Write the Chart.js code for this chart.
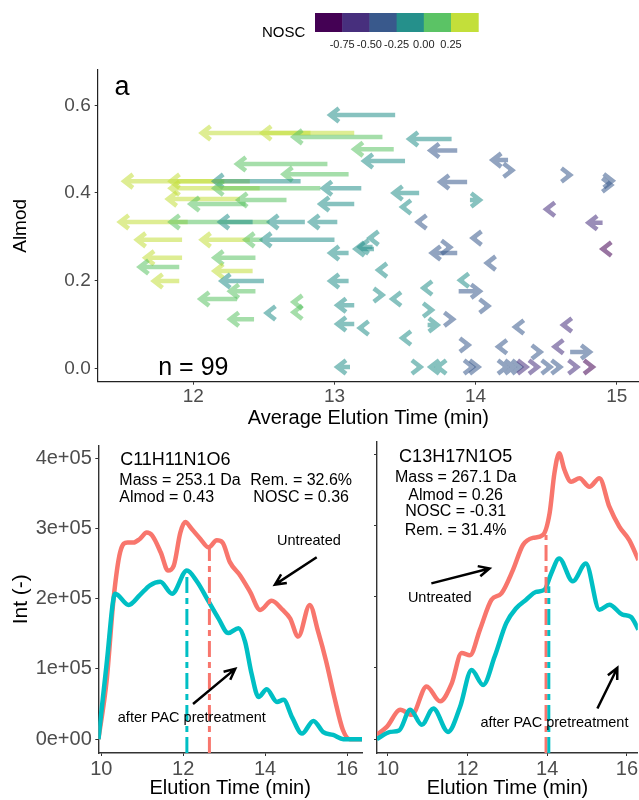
<!DOCTYPE html>
<html>
<head>
<meta charset="utf-8">
<script src="https://cdn.jsdelivr.net/npm/chart.js@4.4.0/dist/chart.umd.min.js"></script>
<style>
  body { margin: 0; background: #fff; }
  #wrap { position: relative; width: 639px; height: 800px; overflow: hidden; }
  canvas { position: absolute; }
  #top { left: 0; top: 0; }
  #left { left: 0; top: 430px; }
  #right { left: 366px; top: 430px; }
</style>
</head>
<body>
<div id="wrap">
  <canvas id="top" width="639" height="430"></canvas>
  <canvas id="left" width="366" height="370"></canvas>
  <canvas id="right" width="273" height="370"></canvas>
</div>
<script>
// ---- panel a: elution shift arrows (tail = start, head = end) ----
const startTime = [13.43, 12.83, 13.14, 13.34, 13.42, 13.50, 12.95, 13.10, 12.22, 12.40,
  12.76, 12.47, 12.90, 13.19, 12.33, 12.37, 12.66, 13.14, 11.96, 12.54,
  12.42, 12.79, 13.02, 11.92, 12.40, 12.49, 13.00, 13.10, 13.28, 11.92,
  12.44, 11.90, 12.42, 11.90, 12.50, 13.10, 12.44, 12.31, 13.14, 12.74,
  12.74, 12.55, 12.43, 13.14, 13.21, 13.11, 13.83, 13.87, 14.23, 14.23,
  14.64, 14.94, 14.93, 13.94, 13.60, 13.96, 13.51, 14.53, 13.62, 14.90,
  14.01, 13.28, 13.27, 14.93, 13.87, 13.79, 14.11, 13.34, 13.92, 13.66,
  13.88, 13.31, 13.44, 14.06, 13.66, 13.81, 13.66, 14.31, 14.65, 13.51,
  13.92, 14.59, 14.19, 14.43, 14.67, 13.58, 13.71, 13.76, 13.95, 13.99,
  14.19, 14.24, 14.29, 14.33, 14.41, 14.50, 14.57, 14.69, 14.80];
const endTime = [12.97, 12.06, 12.49, 12.71, 13.14, 13.21, 12.31, 12.64, 11.51, 11.84,
  12.15, 11.84, 12.15, 12.92, 11.82, 11.98, 12.32, 12.90, 11.48, 11.84,
  12.19, 12.54, 12.83, 11.60, 12.06, 12.37, 12.49, 12.97, 13.15, 11.66,
  12.15, 11.62, 12.15, 11.72, 12.20, 12.97, 12.26, 12.05, 13.02, 12.71,
  12.71, 12.52, 12.26, 13.02, 13.18, 13.02, 13.53, 13.68, 14.12, 14.26,
  14.67, 14.97, 14.96, 13.75, 13.42, 14.03, 13.48, 14.50, 13.59, 14.80,
  13.98, 13.25, 13.18, 14.90, 13.69, 13.82, 14.08, 13.31, 13.89, 13.63,
  14.03, 13.34, 13.41, 14.09, 13.69, 13.84, 13.73, 14.28, 14.62, 13.48,
  13.95, 14.56, 14.16, 14.46, 14.81, 13.61, 13.68, 13.73, 13.98, 14.02,
  14.22, 14.27, 14.32, 14.36, 14.44, 14.53, 14.60, 14.72, 14.83];
const almod = [0.578, 0.537, 0.537, 0.528, 0.500, 0.473, 0.466, 0.443, 0.427, 0.427,
  0.427, 0.411, 0.411, 0.411, 0.386, 0.375, 0.384, 0.375, 0.334, 0.334,
  0.334, 0.334, 0.334, 0.293, 0.293, 0.293, 0.293, 0.263, 0.272, 0.252,
  0.252, 0.231, 0.222, 0.199, 0.199, 0.199, 0.176, 0.158, 0.144, 0.151,
  0.128, 0.126, 0.112, 0.101, 0.092, 0.003, 0.523, 0.497, 0.475, 0.452,
  0.441, 0.428, 0.418, 0.425, 0.400, 0.384, 0.368, 0.363, 0.334, 0.332,
  0.297, 0.297, 0.277, 0.272, 0.263, 0.276, 0.240, 0.224, 0.201, 0.183,
  0.176, 0.167, 0.158, 0.142, 0.133, 0.112, 0.099, 0.094, 0.099, 0.069,
  0.053, 0.049, 0.049, 0.037, 0.037, 0.003, 0.003, 0.003, 0.003, 0.003,
  0.003, 0.003, 0.003, 0.003, 0.003, 0.003, 0.003, 0.003, 0.003];
const nosc = [-0.10, 0.35, 0.30, 0.10, 0.10, -0.10, 0.10, 0.10, 0.35, 0.30,
  -0.10, 0.30, 0.10, -0.10, 0.30, 0.10, 0.10, -0.10, 0.35, 0.10,
  -0.10, -0.10, -0.10, 0.35, 0.30, 0.10, -0.10, -0.10, -0.10, 0.30,
  0.10, 0.10, 0.30, 0.30, -0.10, -0.10, 0.10, 0.10, -0.10, 0.10,
  0.10, -0.10, 0.10, -0.10, -0.10, -0.10, -0.10, -0.35, -0.35, -0.35,
  -0.35, -0.35, -0.35, -0.35, -0.10, -0.10, -0.10, -0.60, -0.35, -0.60,
  -0.35, -0.10, -0.10, -0.85, -0.35, -0.35, -0.35, -0.10, -0.10, -0.10,
  -0.35, -0.10, -0.10, -0.35, -0.10, -0.35, -0.10, -0.35, -0.60, -0.10,
  -0.35, -0.60, -0.35, -0.35, -0.35, -0.10, -0.10, -0.10, -0.35, -0.35,
  -0.35, -0.35, -0.35, -0.60, -0.60, -0.35, -0.35, -0.60, -0.85];

const noscBreaks = [-1.0, -0.75, -0.5, -0.25, 0.0, 0.25, 0.5];
const noscColors = ['#440154', '#472F7D', '#39598C', '#25908B', '#5BC365', '#C3DF3A'];
const topXTicks = [12, 13, 14, 15];
const topYTicks = [0.0, 0.2, 0.4, 0.6];

// ---- panels b/c: chromatograms ----
const redTimeL = [9.93, 10.13, 10.30, 10.46, 10.64, 10.79, 10.94, 11.11, 11.24, 11.45,
  11.63, 11.77, 11.93, 12.05, 12.21, 12.42, 12.62, 12.82, 12.96, 13.14,
  13.39, 13.63, 13.88, 14.16, 14.43, 14.61, 14.81, 15.09, 15.29, 15.49,
  15.69, 15.90, 16.07, 16.37];
const redIntL = [0, 83000, 200000, 266000, 280000, 280000, 285000, 294000, 290000, 266000,
  240000, 247000, 294000, 309000, 299000, 285000, 273000, 283000, 280000, 252000,
  233000, 210000, 184000, 197000, 184000, 172000, 146000, 191000, 154000, 111000,
  60000, 13000, 0, 0];
const tealTimeL = [9.93, 10.13, 10.34, 10.67, 10.94, 11.19, 11.44, 11.73, 12.09, 12.34,
  12.62, 12.86, 13.10, 13.35, 13.51, 13.67, 13.84, 14.04, 14.29, 14.45,
  14.66, 14.90, 15.18, 15.42, 15.66, 15.91, 16.37];
const tealIntL = [0, 107000, 207000, 191000, 205000, 219000, 224000, 207000, 240000, 224000,
  196000, 172000, 151000, 158000, 139000, 93000, 60000, 71000, 53000, 56000,
  31000, 8000, 26000, 10000, 6000, 0, 0];
const medianL = [12.64, 12.09];          // untreated, after PAC
const medianTopL = [273000, 240000];

const redTimeR = [9.72, 9.97, 10.31, 10.60, 10.97, 11.31, 11.60, 11.85, 12.06, 12.31,
  12.60, 12.85, 13.14, 13.39, 13.64, 13.89, 14.06, 14.18, 14.30, 14.43,
  14.60, 14.81, 15.06, 15.31, 15.56, 15.81, 16.06, 16.29];
const redIntR = [6000, 17000, 41000, 34000, 74000, 53000, 78000, 121000, 118000, 154000,
  196000, 205000, 238000, 273000, 283000, 287000, 318000, 374000, 402000, 379000,
  362000, 367000, 355000, 367000, 327000, 299000, 280000, 252000];
const tealTimeR = [9.72, 10.06, 10.28, 10.56, 10.85, 11.14, 11.51, 11.81, 12.10, 12.39,
  12.68, 12.97, 13.22, 13.47, 13.72, 13.93, 14.10, 14.30, 14.64, 14.97,
  15.31, 15.56, 15.89, 16.10, 16.29];
const tealIntR = [0, 10000, 12000, 41000, 20000, 43000, 10000, 45000, 97000, 76000,
  116000, 163000, 184000, 196000, 207000, 210000, 233000, 254000, 222000, 247000,
  182000, 189000, 175000, 172000, 154000];
const medianR = [13.97, 14.04];
const medianTopR = [287000, 215000];

const timeTicks = [10, 12, 14, 16];
const intTicks = [0, 100000, 200000, 300000, 400000];

const RED = '#F8766D';
const TEAL = '#00BFC4';
const FONT = '"Liberation Sans", Arial, sans-serif';
const INT_MIN = -19700, INT_MAX = 418000;

Chart.defaults.font.family = FONT;
Chart.defaults.color = '#4d4d4d';

const hexToRgba = (hex, a) => {
  const n = parseInt(hex.slice(1), 16);
  return `rgba(${(n >> 16) & 255}, ${(n >> 8) & 255}, ${n & 255}, ${a})`;
};

const noscColor = (v) => {
  let i = Math.floor((v - noscBreaks[0]) / 0.25);
  i = Math.max(0, Math.min(noscColors.length - 1, i));
  return noscColors[i];
};

const sciLabel = (v) => {
  const [m, e] = Number(v).toExponential(0).split('e');
  return m + 'e' + e[0] + e.slice(1).padStart(2, '0');
};

const drawArrow = (ctx, x0, y0, x1, y1, len, ang) => {
  const a = Math.atan2(y1 - y0, x1 - x0);
  ctx.beginPath();
  ctx.moveTo(x0, y0);
  ctx.lineTo(x1, y1);
  ctx.moveTo(x1 - len * Math.cos(a - ang), y1 - len * Math.sin(a - ang));
  ctx.lineTo(x1, y1);
  ctx.lineTo(x1 - len * Math.cos(a + ang), y1 - len * Math.sin(a + ang));
  ctx.stroke();
};

const arrowPlugin = {
  id: 'shiftArrows',
  afterDatasetsDraw(chart) {
    const {ctx, chartArea, scales: {x, y}} = chart;
    ctx.save();
    ctx.beginPath();
    ctx.rect(chartArea.left, chartArea.top, chartArea.width, chartArea.height);
    ctx.clip();
    ctx.lineWidth = 4.5;
    ctx.lineCap = 'butt';
    ctx.lineJoin = 'miter';
    startTime.forEach((s, i) => {
      ctx.strokeStyle = hexToRgba(noscColor(nosc[i]), 0.55);
      const py = y.getPixelForValue(almod[i]);
      drawArrow(ctx, x.getPixelForValue(s), py, x.getPixelForValue(endTime[i]), py, 11, 0.66);
    });
    ctx.restore();
  },
  afterDraw(chart) {
    // binned colour legend
    const ctx = chart.ctx;
    ctx.save();
    ctx.font = `15px ${FONT}`;
    ctx.fillStyle = '#000';
    ctx.textAlign = 'left';
    ctx.textBaseline = 'middle';
    ctx.fillText('NOSC', 262, 33);
    const w = 27.2;
    noscColors.forEach((c, i) => {
      ctx.fillStyle = c;
      ctx.fillRect(315 + i * w, 13, w + 0.5, 19);
    });
    ctx.font = `11px ${FONT}`;
    ctx.fillStyle = '#222';
    ctx.textAlign = 'center';
    noscBreaks.slice(1, 6).forEach((b, i) => {
      ctx.fillText(b.toFixed(2), 315 + (i + 1) * w, 45);
    });
    ctx.restore();
  }
};

const notesPlugin = {
  id: 'notes',
  afterDatasetsDraw(chart, args, opts) {
    const {ctx, scales: {x, y}} = chart;
    ctx.save();
    ctx.fillStyle = '#000';
    ctx.textBaseline = 'middle';
    (opts.texts || []).forEach((t) => {
      ctx.font = `${t.size}px ${FONT}`;
      ctx.textAlign = t.align || 'left';
      ctx.fillText(t.text, x.getPixelForValue(t.x), y.getPixelForValue(t.y));
    });
    ctx.strokeStyle = '#000';
    ctx.lineWidth = 2.5;
    ctx.lineCap = 'butt';
    (opts.arrows || []).forEach((a) => {
      drawArrow(ctx, x.getPixelForValue(a.x0), y.getPixelForValue(a.y0),
        x.getPixelForValue(a.x1), y.getPixelForValue(a.y1), 12, Math.PI / 7);
    });
    ctx.restore();
  }
};

const setTicks = (list) => (scale) => { scale.ticks = list.map((v) => ({value: v})); };

new Chart(document.getElementById('top'), {
  type: 'scatter',
  data: {
    datasets: [{
      data: endTime.map((t, i) => ({x: t, y: almod[i]})),
      pointRadius: 0
    }]
  },
  options: {
    responsive: false,
    animation: false,
    layout: {padding: {top: 70, right: 0, left: 0, bottom: 0}},
    plugins: {
      legend: {display: false},
      tooltip: {enabled: false},
      notes: {
        texts: [
          {text: 'a', x: 11.495, y: 0.64, size: 27, align: 'center'},
          {text: 'n = 99', x: 12.0, y: 0.0, size: 25, align: 'center'}
        ]
      }
    },
    scales: {
      x: {
        type: 'linear', min: 11.322, max: 15.158,
        afterBuildTicks: setTicks(topXTicks),
        afterFit: (s) => { s.height = 48.3; },
        grid: {drawOnChartArea: false, tickLength: 3, color: '#333'},
        border: {color: '#222', width: 1.2},
        ticks: {font: {size: 19}, color: '#4d4d4d', padding: 1, maxRotation: 0, callback: (v) => String(v)},
        title: {display: true, text: 'Average Elution Time (min)', font: {size: 20}, color: '#000', padding: {top: 0, bottom: 0}}
      },
      y: {
        min: -0.0306, max: 0.6806,
        afterBuildTicks: setTicks(topYTicks),
        afterFit: (s) => { s.width = 97.7; },
        grid: {drawOnChartArea: false, tickLength: 3, color: '#333'},
        border: {color: '#222', width: 1.2},
        ticks: {font: {size: 19}, color: '#4d4d4d', padding: 4, callback: (v) => Number(v).toFixed(1)},
        title: {display: true, text: 'Almod', font: {size: 19}, color: '#000', padding: {top: 9.6, bottom: 0}}
      }
    }
  },
  plugins: [arrowPlugin, notesPlugin]
});

const makeTrace = (times, ints) => times.map((t, i) => ({x: t, y: ints[i]}));

const drawPanel = (id, cfg) => new Chart(document.getElementById(id), {
  type: 'line',
  data: {
    datasets: [
      {data: [{x: cfg.median[1], y: INT_MIN}, {x: cfg.median[1], y: cfg.medianTop[1]}],
        borderColor: TEAL, borderWidth: 3, borderDash: [16, 5, 6, 5], pointRadius: 0},
      {data: [{x: cfg.median[0], y: INT_MIN}, {x: cfg.median[0], y: cfg.medianTop[0]}],
        borderColor: RED, borderWidth: 3, borderDash: [16, 5, 6, 5], pointRadius: 0},
      {data: makeTrace(cfg.tealT, cfg.tealI), borderColor: TEAL, borderWidth: 4.5,
        pointRadius: 0, cubicInterpolationMode: 'monotone'},
      {data: makeTrace(cfg.redT, cfg.redI), borderColor: RED, borderWidth: 4.5,
        pointRadius: 0, cubicInterpolationMode: 'monotone'}
    ]
  },
  options: {
    responsive: false,
    animation: false,
    layout: {padding: {top: 12, right: cfg.padRight, left: 0, bottom: 0}},
    plugins: {legend: {display: false}, tooltip: {enabled: false}, notes: cfg.notes},
    scales: {
      x: {
        type: 'linear', min: cfg.xMin, max: cfg.xMax,
        afterBuildTicks: setTicks(timeTicks),
        afterFit: (s) => { s.height = 47; },
        grid: {drawOnChartArea: false, tickLength: 3, color: '#333'},
        border: {color: '#333', width: 1.4},
        ticks: {font: {size: 20}, color: '#4d4d4d', padding: 1, maxRotation: 0, callback: (v) => String(v)},
        title: {display: true, text: 'Elution Time (min)', font: {size: 20}, color: '#000', padding: {top: 0, bottom: 0}}
      },
      y: {
        min: INT_MIN, max: INT_MAX,
        afterBuildTicks: setTicks(intTicks),
        afterFit: (s) => { s.width = cfg.yWidth; },
        grid: {drawOnChartArea: false, tickLength: 3, color: '#333'},
        border: {color: '#333', width: 1.4},
        ticks: {display: cfg.showY, font: {size: 20}, color: '#4d4d4d', padding: 3.5, callback: sciLabel},
        title: {display: cfg.showY, text: 'Int (-)', font: {size: 21}, color: '#000', padding: {top: 8.4, bottom: 0}}
      }
    }
  },
  plugins: [notesPlugin]
});

drawPanel('left', {
  redT: redTimeL, redI: redIntL, tealT: tealTimeL, tealI: tealIntL,
  median: medianL, medianTop: medianTopL,
  xMin: 9.927, xMax: 16.366, yWidth: 98.3, padRight: 4, showY: true,
  notes: {
    texts: [
      {text: 'C11H11N1O6', x: 10.46, y: 397000, size: 18},
      {text: 'Mass = 253.1 Da', x: 10.44, y: 368000, size: 16},
      {text: 'Rem. = 32.6%', x: 14.88, y: 368000, size: 16, align: 'center'},
      {text: 'Almod = 0.43', x: 10.44, y: 344000, size: 16},
      {text: 'NOSC = 0.36', x: 14.88, y: 344000, size: 16, align: 'center'},
      {text: 'Untreated', x: 15.07, y: 282000, size: 14.5, align: 'center'},
      {text: 'after PAC pretreatment', x: 12.21, y: 30000, size: 14.5, align: 'center'}
    ],
    arrows: [
      {x0: 15.26, y0: 259000, x1: 14.24, y1: 220000},
      {x0: 12.24, y0: 50000, x1: 13.27, y1: 100000}
    ]
  }
});

drawPanel('right', {
  redT: redTimeR, redI: redIntR, tealT: tealTimeR, tealI: tealIntR,
  median: medianR, medianTop: medianTopR,
  xMin: 9.725, xMax: 16.275, yWidth: 11, padRight: 0, showY: false,
  notes: {
    texts: [
      {text: 'C13H17N1O5', x: 11.7, y: 397000, size: 18, align: 'center'},
      {text: 'Mass = 267.1 Da', x: 11.7, y: 368000, size: 16, align: 'center'},
      {text: 'Almod = 0.26', x: 11.7, y: 342000, size: 16, align: 'center'},
      {text: 'NOSC = -0.31', x: 11.7, y: 320000, size: 16, align: 'center'},
      {text: 'Rem. = 31.4%', x: 11.7, y: 294000, size: 16, align: 'center'},
      {text: 'Untreated', x: 11.3, y: 199000, size: 14.5, align: 'center'},
      {text: 'after PAC pretreatment', x: 14.18, y: 23000, size: 14.5, align: 'center'}
    ],
    arrows: [
      {x0: 11.09, y0: 219000, x1: 12.55, y1: 240000},
      {x0: 15.26, y0: 43000, x1: 15.76, y1: 100000}
    ]
  }
});
</script>
</body>
</html>
